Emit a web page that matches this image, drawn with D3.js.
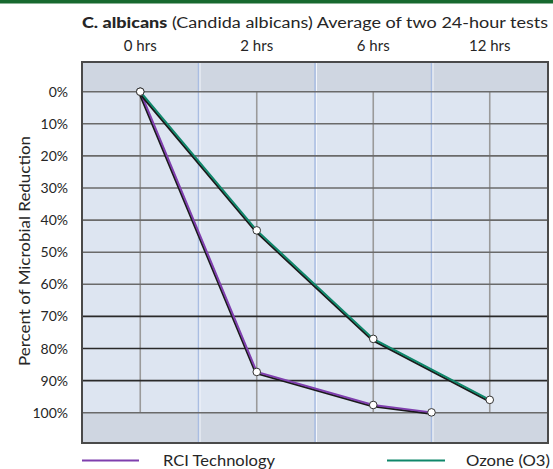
<!DOCTYPE html>
<html><head><meta charset="utf-8">
<script src="https://cdn.jsdelivr.net/npm/d3@7"></script>
<style>
body{margin:0;background:#fff;}
text{font-family:"Lato","Roboto","DejaVu Sans",sans-serif;fill:#262626;font-weight:400;}
</style></head>
<body><svg id="c" width="553" height="469"></svg>
<script>
// ---- data ----
const categories = ["0 hrs", "2 hrs", "6 hrs", "12 hrs"];
const categoryHours = [0, 2, 6, 12];
const yTicks = [0, 10, 20, 30, 40, 50, 60, 70, 80, 90, 100];
const rciHours = [0, 2, 6, 9];
const rciValues = [0, 87.3, 97.6, 99.9];
const ozoneHours = [0, 2, 6, 12];
const ozoneValues = [0, 43.2, 77.0, 96.0];
const seriesNames = ["RCI Technology", "Ozone (O3)"];

const svg = d3.select("#c");
const L = 82, R = 548, T = 62, B = 443;

const xBand = d3.scaleBand().domain(categories).range([L, R]).padding(0);
const centers = categories.map(c => xBand(c) + xBand.bandwidth() / 2);
const x = d3.scaleLinear().domain(categoryHours).range(centers);
const y = d3.scaleLinear().domain([0, 100]).range([91.7, 412.7]);

// top green bar
svg.append("rect").attr("x", 0).attr("y", 0).attr("width", 553).attr("height", 3.5).attr("fill", "#17692f");

// backgrounds
svg.append("rect").attr("x", L).attr("y", T).attr("width", R - L).attr("height", B - T).attr("fill", "#cfd6e1");
svg.append("rect").attr("x", L).attr("y", y(0)).attr("width", R - L).attr("height", y(100) - y(0)).attr("fill", "#dde5f1");

// light blue band separators
const seps = categories.slice(1).map(c => xBand(c));
svg.selectAll(".sep").data(seps).enter().append("line")
  .attr("x1", d => d).attr("x2", d => d).attr("y1", T).attr("y2", B)
  .attr("stroke", "#a9bde2").attr("stroke-width", 1.5);
svg.selectAll(".sepw").data(seps).enter().append("line")
  .attr("x1", d => d + 1.5).attr("x2", d => d + 1.5).attr("y1", T).attr("y2", B)
  .attr("stroke", "#f3f6fb").attr("stroke-width", 1);

// grey verticals at categories
svg.selectAll(".vg").data(categoryHours).enter().append("line")
  .attr("x1", d => x(d)).attr("x2", d => x(d)).attr("y1", y(0)).attr("y2", y(100))
  .attr("stroke", "#9a9a9a").attr("stroke-width", 1.6);

// horizontal grid
svg.selectAll(".hg").data(yTicks).enter().append("line")
  .attr("x1", L).attr("x2", R).attr("y1", d => y(d)).attr("y2", d => y(d))
  .attr("stroke", d => (d >= 70 && d <= 90) ? "#2a2a2a" : "#6a6a6a")
  .attr("stroke-width", 1.6);

// border
svg.append("rect").attr("x", L).attr("y", T).attr("width", R - L).attr("height", B - T)
  .attr("fill", "none").attr("stroke", "#4a4a4a").attr("stroke-width", 2);

// y labels
svg.selectAll(".yl").data(yTicks).enter().append("text")
  .attr("x", 68).attr("y", d => y(d)).attr("dy", "0.36em")
  .attr("text-anchor", "end").attr("font-size", 14).text(d => d + "%");

// x labels on top
svg.selectAll(".xl").data(categories).enter().append("text")
  .attr("x", (d, i) => x(categoryHours[i])).attr("y", 50.5)
  .attr("text-anchor", "middle").attr("font-size", 15).text(d => d);

// title
const title = svg.append("text").attr("x", L).attr("y", 28).attr("font-size", 15.5)
  .attr("textLength", 466).attr("lengthAdjust", "spacingAndGlyphs");
title.append("tspan").attr("font-weight", "900").text("C. albicans");
title.append("tspan").text(" (Candida albicans) Average of two 24-hour tests");

// y axis title
svg.append("text").attr("transform", "translate(30,251) rotate(-90)")
  .attr("text-anchor", "middle").attr("font-size", 14.5)
  .attr("textLength", 230).attr("lengthAdjust", "spacingAndGlyphs")
  .text("Percent of Microbial Reduction");

// series
const series = [
  {name: seriesNames[0], hours: rciHours, values: rciValues, color: "#7f3fae"},
  {name: seriesNames[1], hours: ozoneHours, values: ozoneValues, color: "#0f876b"}
];
const line = d3.line().x(d => x(d[0])).y(d => y(d[1]));
series.forEach(s => {
  const pts = s.hours.map((h, i) => [h, s.values[i]]);
  svg.append("path").attr("d", line(pts)).attr("fill", "none")
    .attr("stroke", "#1a1a1a").attr("stroke-width", 2)
    .attr("transform", "translate(-1,1.3)");
  svg.append("path").attr("d", line(pts)).attr("fill", "none")
    .attr("stroke", s.color).attr("stroke-width", 2);
});
series.slice().reverse().forEach(s => {
  svg.selectAll(null).data(s.hours.map((h, i) => [h, s.values[i]])).enter().append("circle")
    .attr("cx", d => x(d[0])).attr("cy", d => y(d[1])).attr("r", 3.8)
    .attr("fill", "#fff").attr("stroke", "#333").attr("stroke-width", 1);
});

// legend
const leg = [
  {x1: 82, x2: 139, tx: 163, tl: 112},
  {x1: 387, x2: 445, tx: 466, tl: 84}
];
series.forEach((s, i) => {
  svg.append("line").attr("x1", leg[i].x1).attr("x2", leg[i].x2).attr("y1", 460.5).attr("y2", 460.5)
    .attr("stroke", s.color).attr("stroke-width", 2);
  svg.append("text").attr("x", leg[i].tx).attr("y", 466).attr("font-size", 15)
    .attr("textLength", leg[i].tl).attr("lengthAdjust", "spacingAndGlyphs").text(s.name);
});
</script></body></html>
